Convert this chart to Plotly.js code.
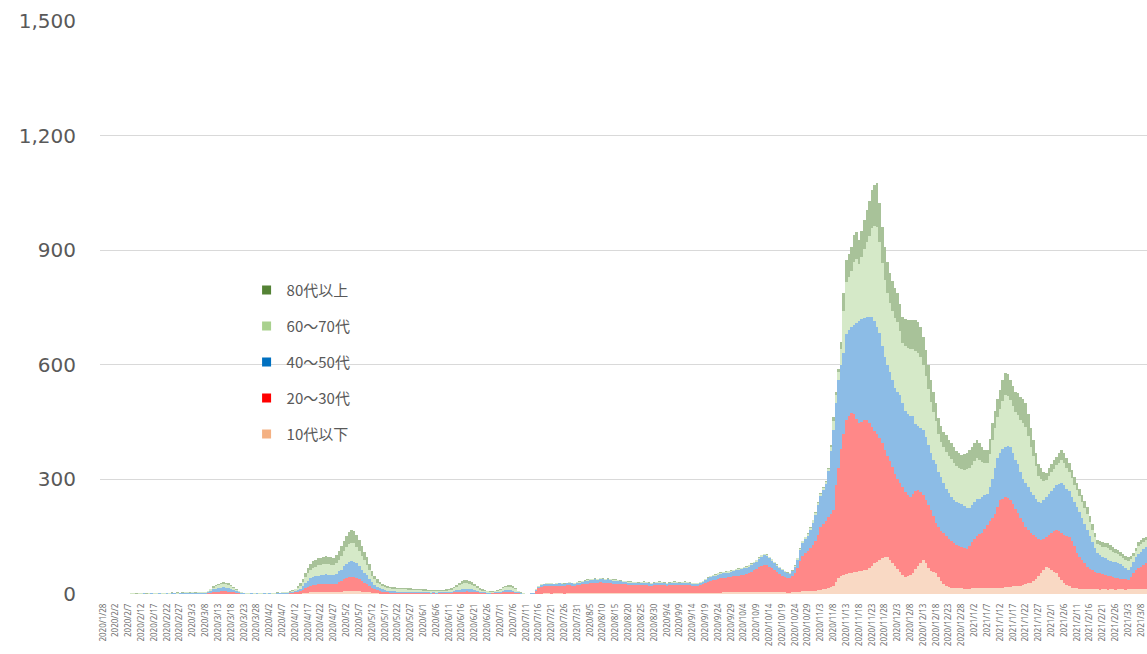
<!DOCTYPE html>
<html>
<head>
<meta charset="utf-8">
<script src="https://cdn.plot.ly/plotly-3.0.1.min.js"></script>
<style>
  html, body { margin: 0; padding: 0; background: #ffffff; }
  #chart { width: 1147px; height: 654px; }
</style>
</head>
<body>
<div id="chart"></div>
<script>
// Daily new cases by age group, 2020/1/28 - 2021/3/10

const age10 = [
  0,0,0,0,0,0,0,0,0,0, 0,0,0,0,0,0,0,0,0,0, 0,0,0,0,0,0,0,0,0,0, 0,0,0,0,0,0,0,0,0,0, 0,
  0,0,1,1,1,1,1,1,1,1,0,0,0,0,
  0,0,0,0,0,0,0,0,0,0, 0,0,0,0,0,0,0,0,
  0,0,1,1,1,2,3,3,4,4, 4,5,5,5,5,5,5,5,5,6, 6,7,8,8,8,8,8,7,6,5, 5,4,3,2,2,1,1,1,
  1,0,0,1,0,0,0,1,0,0, 0,0,0,1,0,0,0,0,0,0, 0,0,0,0,0,0,1,1,1,1, 1,1,1,1,1,1,0,0,0,0, 0,0,0,0,0,1,1,1,1,1, 0,0,0,0,0,0,0,0,
  1,1,1,2,2,2,1,2,2,2, 2,1,2,2,2,2,2,2,2,2, 2,2,3,3,2,3,3,2,3,2,
  2,2,2,2,2,2,2,2,2,2, 2,2,2,2,2,2,2,2,2,2, 2,2,2,2,2,2,2,2,2,2, 2,2,2,2,2,2,2,
  3,3,3,3,3,3,4,4,4,4,4,4,4,
  4,4,4,4,5,5,5,6,6,6, 6,6,5,5,5,4,4,4,3,3, 4,5,5,6,7,7,8,8,9,9, 10,10,12,14,16,18,
  20,32,42,47,50,52,54,55,57,58,
  59,60,62,63,68,74,80,85,89,93,
  96,97,90,82,74,65,58,50,45,46,
  50,55,65,74,82,89,80,68,60,57,
  55,45,33,25,20,18,17,16,15,15,
  15,14,14,14,15,15,15,15,15,15,
  15,15,15,16,16,16,17,18,18,19,
  20,21,22,22,24,26,28,30,34,40,
  48,55,63,71,68,63,58,55,45,37,
  29,24,20,17,16,15,14,13,13,12,
  12,12,12,12,11,12,12,11,12,12,
  11,12,12,12,11,12,12,12,13,12,
  12,12,12
];

const age20 = [
  0,0,0,0,0,0,0,0,0,
  0,0,1,0,0,1,0,1,0,0, 1,1,0,1,0,1,1,0,1,0, 0,1,0,1,1,0,1,0,1,0, 1,1,
  2,3,4,5,5,6,6,6,5,5,4,3,2,1,
  1,0,1,1,0,1,0,1,1,0, 1,1,0,1,1,1,1,1,
  2,2,3,4,6,9,12,15,17,19, 20,20,21,21,22,21,21,21,22,25, 27,31,33,36,37,36,34,31,27,24, 21,17,13,10,8,6,5,4,
  3,3,3,2,3,2,2,2,2,2, 2,2,2,2,2,2,2,1,2,1, 2,2,2,2,2,2,3,4,4,5, 5,6,5,5,4,3,2,2,2,1, 1,2,2,2,2,3,4,4,4,4, 3,2,1,1,0,1,1,1,
  8,14,18,18,19,20,19,18,19,20,
  20,19,21,21,20,20,21,22,23,24,
  25,26,26,27,27,28,27,26,27,26,
  25,25,25,24,23,23,22,22,21,21,
  21,21,22,21,20,20,21,21,22,21,
  21,20,21,21,22,21,21,21,22,21,
  21,20,19,20,21,23,26,29,32,33,
  34,36,38,38,39,40,41,42,44,44,
  46,47,49,51,53,57,60,64,68,71, 69,65,62,57,52,48,44,41,39,38, 42,50,64,80,92,100,105,112,120,130, 145,166,172,178,185,192,
  200,253,288,333,370,403,411,419,413,400,
  389,390,393,392,380,363,348,333,319,302,
  282,265,258,251,241,235,232,230,223,212,
  205,207,205,198,186,171,165,164,160,148,
  131,130,133,135,132,127,123,118,113,110,
  107,106,104,111,120,130,137,143,145,155,
  165,175,185,194,212,229,233,236,234,227,
  215,201,190,178,164,150,140,130,121,110,
  97,86,82,78,87,97,107,113,120,123,
  126,128,129,121,109,92,84,76,67,59,
  54,50,46,43,43,40,38,37,34,33,
  32,30,28,27,27,25,33,43,49,55,
  59,64,69
];

const age40 = [
  0,0,0,0,0,0,0,0,0,
  1,0,0,1,1,0,1,1,0,1, 1,0,1,1,1,0,1,1,1,2, 1,1,2,1,1,2,1,2,1,2, 2,1,
  3,5,7,8,10,10,11,10,10,8,6,4,3,2,
  1,1,0,1,1,1,1,0,1,1, 1,0,1,1,1,1,2,2,
  2,3,4,5,7,10,14,17,20,22, 23,23,24,24,25,25,24,24,26,28, 31,35,38,40,42,41,39,35,31,27, 24,19,15,12,9,8,6,5,
  4,4,4,4,3,4,3,3,3,3, 3,3,3,2,2,2,2,2,2,2, 2,2,2,2,3,3,4,5,6,7, 7,7,7,6,5,4,3,2,2,2, 2,1,2,2,3,4,5,5,5,4, 3,2,1,0,0,0,1,1,
  2,4,5,5,5,5,6,5,5,6,
  5,5,5,6,6,5,6,6,6,7,
  8,8,8,8,8,8,8,9,8,8,
  8,8,7,7,7,6,6,6,6,6,
  5,6,6,6,6,5,5,6,6,6,
  5,5,5,6,6,6,5,6,6,6,
  5,5,5,5,6,7,8,9,9,10,
  11,12,12,12,12,12,13,14,14,15,
  15,16,16,17,18,19,20,21,23,24, 24,22,20,19,17,16,14,13,12,12, 13,16,21,28,34,36,40,47,58,68, 77,80,88,96,120,165,
  210,215,230,220,210,225,225,226,235,252,
  267,270,267,270,277,288,287,282,276,255,
  242,238,232,227,225,230,230,220,212,212,
  210,203,175,168,167,170,165,158,150,145,
  154,145,139,130,123,120,115,111,112,113,
  113,110,107,100,97,95,98,92,95,88,
  82,90,100,120,127,125,130,131,136,139,
  135,128,128,120,112,114,112,108,105,100,
  95,97,100,106,107,110,113,117,123,130,
  130,123,121,117,115,121,117,109,103,97,
  86,73,62,52,48,45,43,41,41,40,
  40,39,38,34,30,26,27,30,35,38,
  39,41,42
];

const age60 = [
  0,0,0,0,0,0,0,0,0,
  0,1,1,1,0,1,1,0,1,1, 0,1,1,1,2,1,1,2,1,1, 2,1,1,2,2,1,2,1,2,2, 2,2,
  2,4,5,7,7,9,9,9,8,7,5,3,2,1,
  1,1,1,0,1,1,1,1,1,1, 0,1,1,1,1,2,1,2,
  2,3,4,6,8,11,15,19,21,24, 25,27,26,28,27,27,27,26,29,31, 36,39,43,46,47,48,43,40,36,32, 27,22,17,14,11,10,9,8,
  8,8,7,7,7,7,7,6,6,6, 6,5,5,5,5,5,4,5,4,4, 4,4,4,5,5,6,7,9,12,13, 15,15,14,12,10,8,6,5,4,4, 3,3,3,4,5,7,8,9,9,8, 6,3,1,1,1,0,0,1,
  1,1,2,1,2,2,2,1,2,2, 2,2,2,2,2,1,2,
  2,2,2,2,2,2,2,2,2,2, 2,2,2,2,2,2,2,2,2,2, 2,2,2,2,2,2,2,2,2,2, 2,2,2,2,2,2,2,2,2,2, 2,2,2,2,2,2,2,2,2,2, 2,
  3,3,3,3,3,3,3,3,3,3,3,3,
  3,3,3,3,3,3,4,4,4,4, 4,4,4,3,3,3,3,2,2,2, 2,3,4,5,5,5,5,6,6,6, 6,6,6,6,7,11,
  23,21,21,42,111,136,140,146,165,167,
  148,161,181,196,213,233,248,262,238,217,
  202,189,182,182,182,181,168,157,168,173,
  176,176,190,190,185,170,161,147,133,126,
  112,98,94,94,98,97,98,98,94,92,
  91,95,101,106,107,108,107,101,91,84,
  80,87,104,105,108,115,126,136,131,122,
  122,126,129,136,147,147,133,117,100,84,
  70,64,52,43,48,49,50,52,56,61,
  59,56,50,49,45,43,42,42,42,42,
  37,33,28,24,25,27,29,31,29,26,
  24,23,22,22,22,24,20,15,16,21,
  22,20,18
];

const age80 = [
  0,0,0,0,0,0,0,0,0,
  0,0,0,0,1,0,0,0,1,0, 0,1,0,0,0,1,0,0,1,0, 1,0,1,0,1,1,0,1,1,0, 1,1,
  1,2,3,3,4,4,4,4,4,3,3,2,1,1,
  0,0,1,0,0,0,1,0,0,0, 1,0,0,1,0,0,1,1,
  1,2,2,4,6,8,11,14,16,17, 18,18,19,19,20,20,19,19,20,22, 25,28,30,32,34,33,31,28,25,22, 19,16,12,10,8,7,6,5,
  4,4,4,4,4,4,4,4,4,4, 3,4,3,3,3,3,3,3,3,3, 2,3,3,3,3,4,4,5,6,7, 8,8,8,7,6,4,4,3,2,2, 2,2,2,2,2,3,4,5,5,4, 4,1,1,0,0,0,0,0,
  0,0,0,1,0,0,0,1,0,0, 0,1,0,0,0,1,0,
  1,1,1,1,1,1,1,1,1,1, 1,1,1,1,1,1,1,1,1,1, 1,1,1,1,1,1,1,1,1,1, 1,1,1,1,1,1,1,1,1,1, 1,1,1,1,1,1,1,1,1,1, 1,1,1,1,1,1,1,1,1,1, 1,1,1,
  1,1,1,1,1,1,1,1,1,1, 1,1,1,1,1,1,1,1,1,1, 1,1,1,1,2,2,2,2,2,2, 2,2,2,2,2,4,
  10,9,9,18,47,58,60,62,70,71,
  64,69,77,84,92,100,107,113,102,93,
  86,81,78,78,78,77,72,68,72,74,
  76,76,82,82,80,73,69,63,57,54,
  48,42,41,41,42,41,42,42,41,39,
  39,41,44,46,46,47,46,44,39,36,
  35,38,44,45,47,49,54,58,56,53,
  53,54,56,59,63,63,57,50,43,36,
  30,28,23,18,20,21,22,22,24,26,
  26,24,22,21,20,19,18,18,18,18,
  16,14,12,10,11,12,12,13,12,11,
  10,10,10,9,9,10,8,7,7,9,
  9,9,8
];

const seriesNames  = ['10代以下', '20〜30代', '40〜50代', '60〜70代', '80代以上'];
// key colours (legend swatches) and the lighter fills the dense daily bars show
const seriesColors = ['#f4b183', '#ff0000', '#0070c0', '#a9d18e', '#548235'];
const seriesFills  = ['#f9d9c4', '#ff8888', '#8cbce6', '#d5e9c8', '#a8c299'];
const seriesValues = [age10, age20, age40, age60, age80];
const yTickValues  = [0, 300, 600, 900, 1200, 1500];

// one category per day, labelled like 2020/1/28
const dates = [];
for (let i = 0; i < age10.length; i++) {
  const d = new Date(2020, 0, 28 + i);
  dates.push(d.getFullYear() + '/' + (d.getMonth() + 1) + '/' + d.getDate());
}
// a date label every fifth day
const dateTicks = dates.filter((_, i) => i % 5 === 0);

const lengths = seriesValues.map(v => v.length);
if (lengths.some(n => n !== dates.length)) {
  throw new Error('series lengths differ: ' + lengths.join(','));
}

// stacked daily bars
const barTraces = seriesValues.map((vals, k) => ({
  type: 'bar',
  x: dates,
  y: vals,
  name: seriesNames[k],
  showlegend: false,
  marker: { color: seriesFills[k], line: { width: 0 } },
  hoverinfo: 'skip'
}));

// legend keys, oldest group on top
const legendTraces = seriesNames.map((name, k) => ({
  type: 'scatter',
  mode: 'markers',
  x: [null],
  y: [null],
  name: name,
  legendgroup: 'g' + k,
  legendrank: 10 - k,
  marker: { symbol: 'square', size: 9, color: seriesColors[k] },
  hoverinfo: 'skip'
})).reverse();

const layout = {
  width: 1147,
  height: 654,
  margin: { l: 100, r: 0, t: 21, b: 60, pad: 0 },
  paper_bgcolor: '#ffffff',
  plot_bgcolor: '#ffffff',
  barmode: 'stack',
  bargap: 0,
  font: { family: '"Noto Sans CJK JP", "Noto Sans", sans-serif', color: '#595959' },
  xaxis: {
    type: 'category',
    range: [-1.17, 407.3],
    tickmode: 'array',
    tickvals: dateTicks,
    ticktext: dateTicks,
    tickangle: -90,
    tickfont: { size: 8, color: '#6f6f6f', family: '"Noto Sans", sans-serif' },
    ticks: '',
    ticklabelstandoff: 7,
    showgrid: false,
    zeroline: false,
    showline: false,
    automargin: false,
    fixedrange: true
  },
  yaxis: {
    range: [0, 1500],
    tickmode: 'array',
    tickvals: yTickValues,
    tickformat: ',d',
    tickfont: { size: 20, color: '#595959', family: '"DejaVu Sans", sans-serif' },
    ticks: '',
    ticklabelstandoff: 23,
    gridcolor: '#d9d9d9',
    gridwidth: 1,
    zeroline: false,
    showline: false,
    automargin: false,
    fixedrange: true
  },
  showlegend: true,
  legend: {
    x: 0.14,
    y: 0.559,
    xanchor: 'left',
    yanchor: 'top',
    traceorder: 'grouped',
    tracegroupgap: 13.5,
    bgcolor: 'rgba(0,0,0,0)',
    font: { size: 15, color: '#595959', family: '"Noto Sans CJK JP", sans-serif' }
  }
};

Plotly.newPlot('chart', barTraces.concat(legendTraces), layout, { staticPlot: true, displayModeBar: false });
</script>
</body>
</html>
